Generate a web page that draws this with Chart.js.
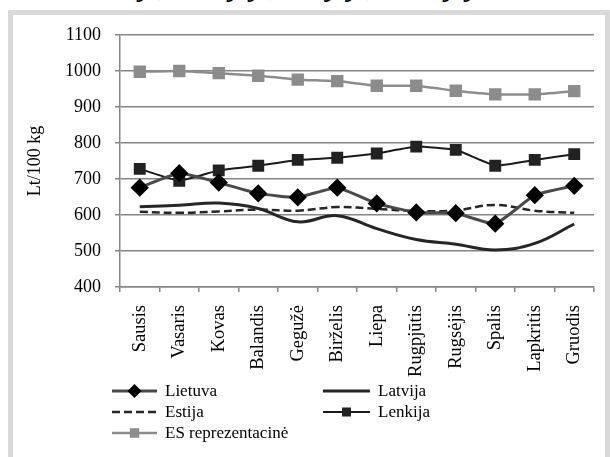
<!DOCTYPE html>
<html>
<head>
<meta charset="utf-8">
<script src="https://cdn.jsdelivr.net/npm/chart.js@4"></script>
<style>
  body { margin: 0; background: #fff; width: 610px; height: 457px; overflow: hidden; position: relative; }
  #cut { position: absolute; left: 56px; top: -26px; font: bold italic 27px "Liberation Serif"; line-height: 1; white-space: nowrap; }
  #frame { position: absolute; left: 8px; top: 10px; width: 592px; height: 460px; border: 5px solid #d9d9d9; background: #fff; }
  #wrap { position: absolute; left: 13px; top: 15px; width: 593px; height: 442px; }
</style>
</head>
<body>
<div id="cut">Lietuvoje, Latvijoje, Estijoje, Lenkijoje</div>
<div id="frame"></div>
<div id="wrap"><canvas id="grafica"></canvas></div>
<script>
const menesiai = ['Sausis', 'Vasaris', 'Kovas', 'Balandis', 'Gegužė', 'Birželis', 'Liepa', 'Rugpjūtis', 'Rugsėjis', 'Spalis', 'Lapkritis', 'Gruodis'];
const lietuva = [676, 716, 690, 660, 649, 676, 632, 607, 605, 576, 655, 681];
const latvija = [623, 627, 633, 618, 581, 598, 562, 532, 519, 503, 521, 575];
const estija = [609, 606, 610, 615, 612, 622, 617, 611, 613, 628, 612, 606];
const lenkija = [728, 695, 724, 737, 753, 759, 771, 790, 781, 737, 753, 769];
const es = [998, 1000, 994, 987, 976, 972, 959, 959, 945, 935, 935, 944];
const yTicks = [400, 500, 600, 700, 800, 900, 1000, 1100];

const serif = 'Liberation Serif';

// legendos vietos (drobės koordinatės)
const legendaVietos = [
  { x: 99, y: 376 },
  { x: 310, y: 376 },
  { x: 99, y: 397 },
  { x: 310, y: 397 },
  { x: 99, y: 418 }
];

const legendaPlugin = {
  id: 'legenda',
  afterDraw(chart) {
    const ctx = chart.ctx;
    chart.data.datasets.forEach((ds, i) => {
      const p = legendaVietos[i];
      const len = i % 2 === 1 && i < 4 ? 47 : 45;
      ctx.save();
      ctx.strokeStyle = ds.borderColor;
      ctx.lineWidth = ds.borderWidth;
      ctx.setLineDash(ds.borderDash || []);
      ctx.beginPath();
      ctx.moveTo(p.x, p.y);
      ctx.lineTo(p.x + len, p.y);
      ctx.stroke();
      ctx.setLineDash([]);
      if (ds.pointRadius > 0) {
        ctx.fillStyle = ds.pointBackgroundColor;
        ctx.strokeStyle = ds.pointBackgroundColor;
        Chart.helpers.drawPoint(ctx, { pointStyle: ds.pointStyle, radius: ds.pointRadius * 0.7, borderWidth: 1, rotation: 0 }, p.x + len / 2, p.y);
      }
      ctx.fillStyle = '#000';
      ctx.font = '17px "' + serif + '"';
      ctx.textBaseline = 'middle';
      ctx.fillText(ds.label, p.x + len + 8, p.y + 1);
      ctx.restore();
    });
  }
};

new Chart(document.getElementById('grafica').getContext('2d'), {
  type: 'line',
  data: {
    labels: menesiai,
    datasets: [
      {
        label: 'Lietuva',
        data: lietuva,
        borderColor: '#4a4a4a',
        borderWidth: 3,
        pointStyle: 'rectRot',
        pointRadius: 7,
        pointBackgroundColor: '#000',
        pointBorderColor: '#000',
        tension: 0.15
      },
      {
        label: 'Latvija',
        data: latvija,
        borderColor: '#262626',
        borderWidth: 3,
        pointRadius: 0,
        tension: 0.4
      },
      {
        label: 'Estija',
        data: estija,
        borderColor: '#262626',
        borderWidth: 2.5,
        borderDash: [8, 4],
        pointRadius: 0,
        tension: 0.4
      },
      {
        label: 'Lenkija',
        data: lenkija,
        borderColor: '#1a1a1a',
        borderWidth: 2,
        pointStyle: 'rect',
        pointRadius: 7,
        pointBackgroundColor: '#222',
        pointBorderColor: '#222',
        tension: 0.1
      },
      {
        label: 'ES reprezentacinė',
        data: es,
        borderColor: '#8c8c8c',
        borderWidth: 2.5,
        pointStyle: 'rect',
        pointRadius: 7,
        pointBackgroundColor: '#8c8c8c',
        pointBorderColor: '#8c8c8c',
        tension: 0.1
      }
    ]
  },
  options: {
    responsive: true,
    maintainAspectRatio: false,
    animation: false,
    layout: { padding: { top: 20, right: 12, left: 0, bottom: 0 } },
    plugins: {
      legend: { display: false },
      tooltip: { enabled: false }
    },
    scales: {
      x: {
        offset: true,
        grid: { drawOnChartArea: false, offset: true, tickLength: 5, color: '#868686', lineWidth: 1.5 },
        border: { color: '#868686', width: 1.5 },
        ticks: { maxRotation: 90, minRotation: 90, padding: 13, color: '#000', font: { family: serif, size: 18.5 } },
        afterFit(s) { s.height = 170; s.paddingLeft = 0; s.paddingRight = 0; }
      },
      y: {
        min: 400,
        max: 1100,
        afterBuildTicks(s) { s.ticks = yTicks.map(v => ({ value: v })); },
        grid: { color: '#868686', lineWidth: 1.5, tickLength: 5 },
        border: { color: '#868686', width: 1.5 },
        ticks: { padding: 14, color: '#000', font: { family: serif, size: 18 }, callback: v => String(v) },
        title: { display: true, text: 'Lt/100 kg', color: '#000', font: { family: serif, size: 18 }, padding: { top: 11, bottom: 0 } },
        afterFit(s) { s.width = 107; s.paddingTop = 0; s.paddingBottom = 0; }
      }
    }
  },
  plugins: [legendaPlugin]
});
</script>
</body>
</html>
